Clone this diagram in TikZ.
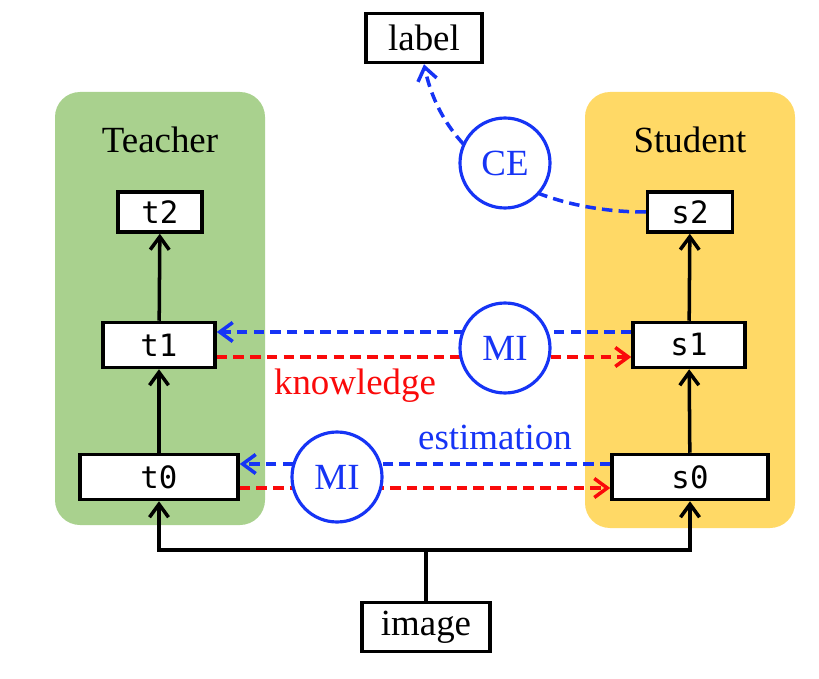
\documentclass[tikz,border=0pt]{standalone}
\usepackage{fontspec}
\setmainfont{Liberation Serif}
\setmonofont{DejaVu Sans Mono}
\usetikzlibrary{arrows.meta}

\definecolor{teachgreen}{HTML}{A9D18E}
\definecolor{studyellow}{HTML}{FFD966}
\definecolor{miblue}{RGB}{22,52,245}
\definecolor{kred}{RGB}{250,10,10}

\tikzset{
  layer/.style={draw, line width=2pt, fill=white, inner sep=0pt, minimum height=0.9cm, font=\ttfamily\fontsize{17.5}{20}\selectfont},
  io/.style={draw, line width=2pt, fill=white, inner sep=0pt, minimum height=0.98cm, font=\fontsize{21}{24}\selectfont},
  loss/.style={circle, draw=miblue, line width=1.8pt, fill=white, minimum size=1.8cm, inner sep=0pt, text=miblue, font=\fontsize{21}{24}\selectfont},
  flow/.style={line width=2pt, -{Straight Barb[length=2.6mm,width=3.8mm]}},
  est/.style={miblue, dashed, dash pattern=on 6pt off 3.5pt, line width=2pt, -{Straight Barb[length=2.6mm,width=3.8mm]}},
  know/.style={kred, dashed, dash pattern=on 6pt off 3.5pt, line width=2pt, -{Straight Barb[length=2.6mm,width=3.8mm]}},
  title/.style={font=\fontsize{21}{24}\selectfont}
}

\begin{document}
\begin{tikzpicture}[x=0.02cm, y=-0.02cm]
   \useasboundingbox (0,0) rectangle (819,679);

   % panels
   \fill[teachgreen, rounded corners=0.5cm] (55,92) rectangle (265,525);
   \fill[studyellow, rounded corners=0.5cm] (585,92) rectangle (795,528);
   \node[title] (teacher) at (160,140) {Teacher};
   \node[title] (student) at (690,140) {Student};

   % layers
   \node[layer, minimum width=1.68cm, minimum height=0.8cm] (t2) at (160,212) {t2};
   \node[layer, minimum width=2.24cm] (t1) at (159,345) {t1};
   \node[layer, minimum width=3.16cm] (t0) at (159,477) {t0};
   \node[layer, minimum width=1.70cm, minimum height=0.8cm] (s2) at (690,212) {s2};
   \node[layer, minimum width=2.24cm] (s1) at (689,345) {s1};
   \node[layer, minimum width=3.12cm] (s0) at (690,477) {s0};

   \node[io, minimum width=2.32cm] (lbl) at (424,38) {label};
   \node[io, minimum width=2.56cm] (img) at (426,627) {image};

   % forward passes
   \draw[flow] (t0) -- (t1);
   \draw[flow] (t1) -- (t2);
   \draw[flow] (s0) -- (s1);
   \draw[flow] (s1) -- (s2);
   \coordinate (fork) at (426,550);
   \draw[line width=2pt] (img) -- (fork);
   \draw[flow] (fork) -| (t0);
   \draw[flow] (fork) -| (s0);

   % distillation
   \draw[est] ([yshift=0.26cm]s1.west) -- ([yshift=0.26cm]t1.east);
   \draw[know] ([yshift=-0.24cm]t1.east) -- ([yshift=-0.24cm]s1.west);
   \draw[est] ([yshift=0.26cm]s0.west) -- ([yshift=0.26cm]t0.east);
   \draw[know] ([yshift=-0.22cm]t0.east) -- ([yshift=-0.22cm]s0.west);
   \draw[est] (s2.west) .. controls (545,212) and (446,168) .. (lbl.south);

   \node[loss] (ce) at (505,163) {CE};
   \node[loss] (mi1) at (505,348) {MI};
   \node[loss] (mi0) at (337,477) {MI};

   \node[text=kred, font=\fontsize{21}{24}\selectfont] (knowl) at (355,386) {knowledge};
   \node[text=miblue, font=\fontsize{21}{24}\selectfont] (estim) at (495,437) {estimation};

\end{tikzpicture}
\end{document}
